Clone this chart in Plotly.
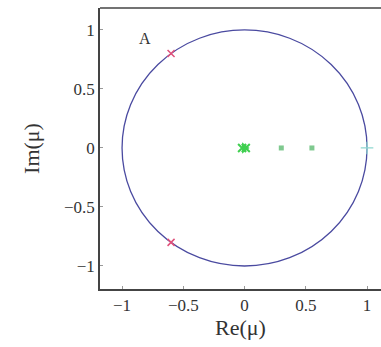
import plotly.graph_objects as go

# data
radius = 1.0
red_re = [-0.6, -0.6]
red_im = [0.8, -0.8]
green_x_re = [-0.02, 0.01]
green_x_im = [0.0, 0.0]
green_tri_re = [0.0]
green_tri_im = [0.0]
green_dot_re = [0.3, 0.55]
green_dot_im = [0.0, 0.0]
cyan_re = [1.0]
cyan_im = [0.0]
xticks = [-1, -0.5, 0, 0.5, 1]
xticklabels = ["\u22121", "\u22120.5", "0", "0.5", "1"]
yticks = [-1, -0.5, 0, 0.5, 1]
yticklabels = ["\u22121", "\u22120.5", "0", "0.5", "1"]

font = "Liberation Serif, Times New Roman, serif"

fig = go.Figure()
fig.add_shape(type="circle", xref="x", yref="y", x0=-radius, x1=radius, y0=-radius, y1=radius,
              line=dict(color="#4a4aa0", width=1.3), layer="below")
fig.add_trace(go.Scatter(x=red_re, y=red_im, mode="markers",
                         marker=dict(symbol="x-thin", size=7, line=dict(color="#e0507a", width=1.5)), showlegend=False))
fig.add_trace(go.Scatter(x=green_tri_re, y=green_tri_im, mode="markers",
                         marker=dict(symbol="triangle-right", size=10, color="#4fd060"), showlegend=False))
fig.add_trace(go.Scatter(x=green_x_re, y=green_x_im, mode="markers",
                         marker=dict(symbol="x-thin", size=8, line=dict(color="#3fcf4f", width=2)), showlegend=False))
fig.add_trace(go.Scatter(x=green_dot_re, y=green_dot_im, mode="markers",
                         marker=dict(symbol="square", size=5, color="#7fc98f"), showlegend=False))
fig.add_trace(go.Scatter(x=cyan_re, y=cyan_im, mode="markers",
                         marker=dict(symbol="cross-thin", size=9, line=dict(color="#8fd8d0", width=1.2)), showlegend=False))

fig.add_annotation(x=-0.81, y=0.93, text="A", showarrow=False, xref="x", yref="y",
                   font=dict(family=font, size=16, color="#333"))
# top frame line
fig.add_shape(type="line", xref="paper", yref="paper", x0=0, x1=1, y0=1, y1=1,
              line=dict(color="#444", width=1.5))

fig.update_layout(
    width=381, height=347,
    margin=dict(l=100, r=0, t=8, b=58),
    plot_bgcolor="white", paper_bgcolor="white",
    font=dict(family=font, size=17, color="#333"),
    xaxis=dict(range=[-1.18, 1.114], tickvals=xticks, ticktext=xticklabels,
               ticks="inside", ticklen=3, tickcolor="#999", showgrid=False, zeroline=False,
               showline=True, linecolor="#444", linewidth=1.5,
               title=dict(text="Re(\u03bc)", font=dict(family=font, size=22), standoff=4)),
    yaxis=dict(range=[-1.195, 1.186], tickvals=yticks, ticktext=yticklabels,
               ticks="inside", ticklen=3, tickcolor="#999", showgrid=False, zeroline=False,
               showline=True, linecolor="#444", linewidth=1.5,
               title=dict(text="Im(\u03bc)", font=dict(family=font, size=22), standoff=18)),
)
fig.write_html("out.html")
